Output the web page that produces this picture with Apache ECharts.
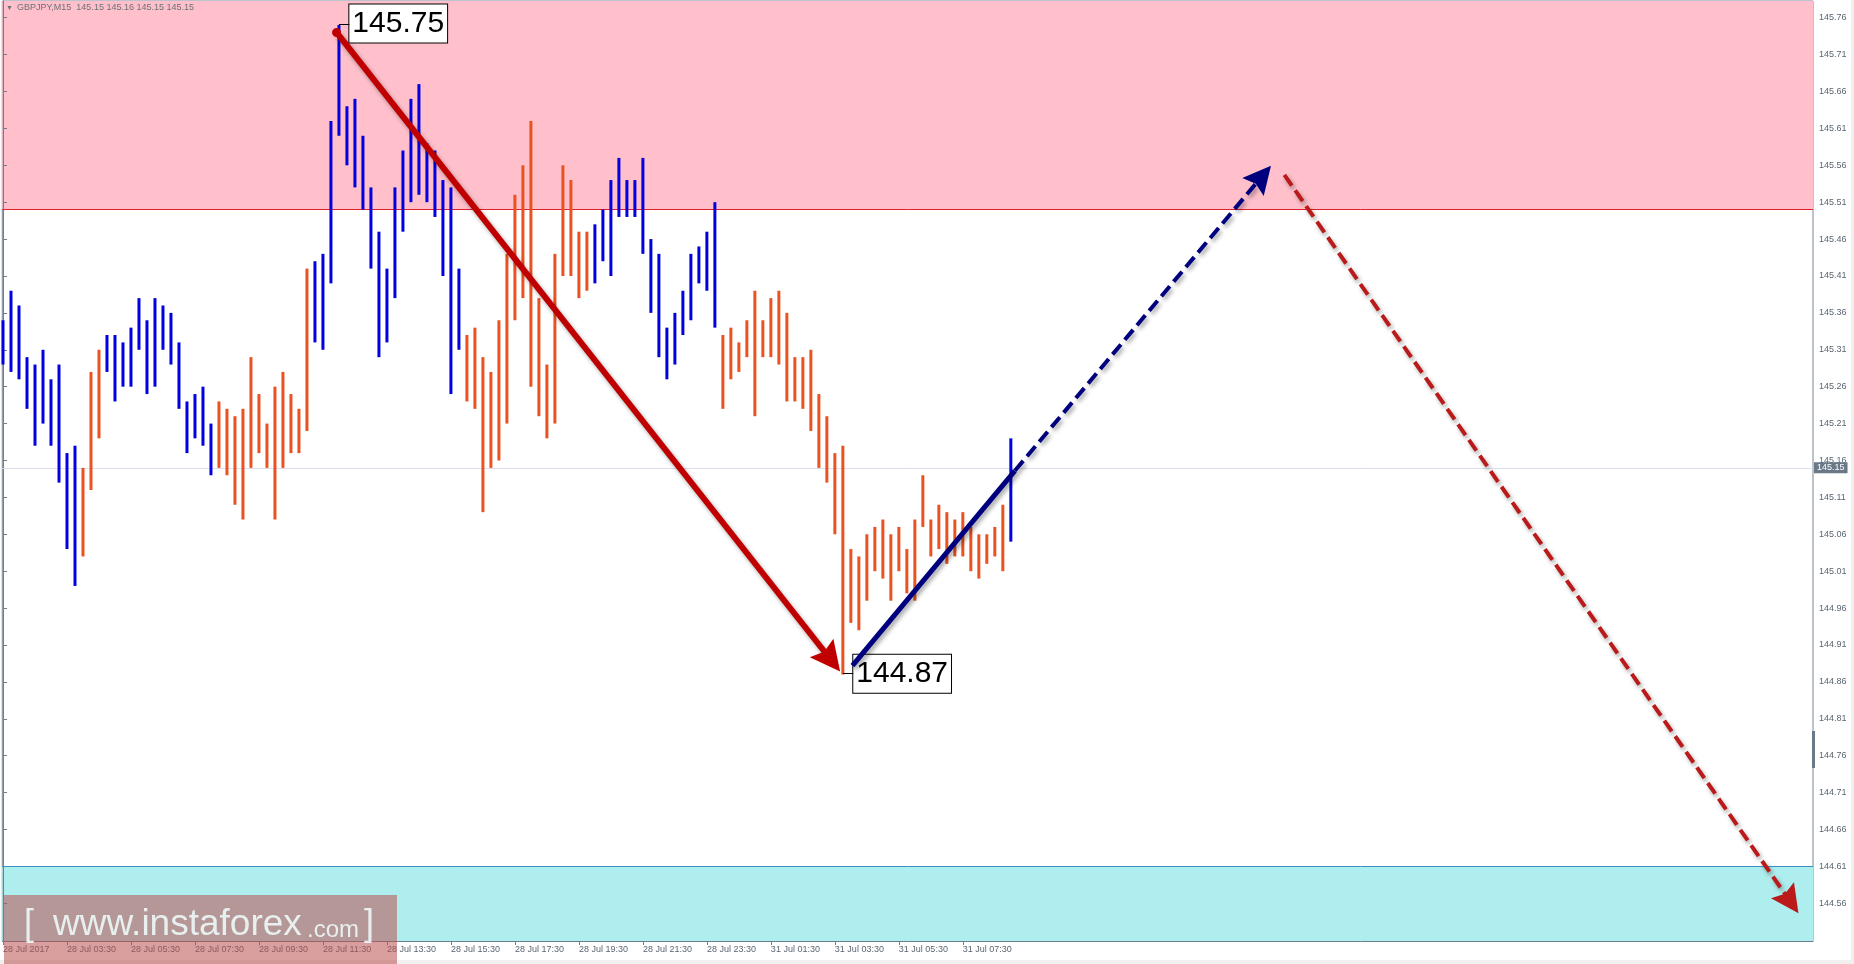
<!DOCTYPE html>
<html>
<head>
<meta charset="utf-8">
<script src="https://cdn.jsdelivr.net/npm/echarts@6/dist/echarts.min.js"></script>
<style>
html,body{margin:0;padding:0;background:#fff;}
#chart{width:1854px;height:964px;}
</style>
</head>
<body>
<div id="chart"></div>
<script>
// ---------------- data ----------------
const headerSymbol = 'GBPJPY,M15  145.15 145.16 145.15 145.15';
const timeLabels = ['28 Jul 2017','28 Jul 03:30','28 Jul 05:30','28 Jul 07:30','28 Jul 09:30','28 Jul 11:30',
  '28 Jul 13:30','28 Jul 15:30','28 Jul 17:30','28 Jul 19:30','28 Jul 21:30','28 Jul 23:30',
  '31 Jul 01:30','31 Jul 03:30','31 Jul 05:30','31 Jul 07:30'];
const barsPerLabel = 8;

const highs = [
  145.35,145.39,145.37,145.30,145.29,145.31,145.27,145.29,145.17,145.18,
  145.15,145.28,145.31,145.33,145.33,145.32,145.34,145.38,145.35,145.38,
  145.37,145.36,145.32,145.24,145.25,145.26,145.21,145.24,145.23,145.22,
  145.23,145.30,145.25,145.21,145.26,145.28,145.25,145.23,145.42,145.43,
  145.44,145.62,145.75,145.64,145.65,145.60,145.53,145.47,145.42,145.53,
  145.58,145.65,145.67,145.59,145.58,145.54,145.53,145.42,145.33,145.34,
  145.30,145.28,145.35,145.44,145.52,145.56,145.62,145.38,145.29,145.44,
  145.56,145.54,145.47,145.47,145.48,145.50,145.54,145.57,145.54,145.54,
  145.57,145.46,145.44,145.34,145.36,145.39,145.44,145.45,145.47,145.51,
  145.33,145.34,145.32,145.35,145.39,145.35,145.38,145.39,145.36,145.30,
  145.30,145.31,145.25,145.22,145.17,145.18,145.04,145.03,145.06,145.07,
  145.08,145.06,145.07,145.04,145.08,145.14,145.08,145.10,145.09,145.08,
  145.09,145.07,145.06,145.06,145.07,145.10,145.19
];
const lows = [
  145.29,145.28,145.27,145.23,145.18,145.21,145.18,145.13,145.04,144.99,
  145.03,145.12,145.19,145.28,145.24,145.26,145.26,145.31,145.25,145.26,
  145.31,145.29,145.23,145.17,145.19,145.18,145.14,145.15,145.14,145.10,
  145.08,145.15,145.17,145.15,145.08,145.15,145.17,145.17,145.20,145.32,
  145.31,145.40,145.60,145.56,145.53,145.50,145.42,145.30,145.32,145.38,
  145.47,145.51,145.52,145.51,145.49,145.41,145.25,145.31,145.24,145.23,
  145.09,145.15,145.16,145.21,145.35,145.38,145.26,145.22,145.19,145.21,
  145.41,145.41,145.38,145.39,145.40,145.43,145.41,145.49,145.49,145.49,
  145.44,145.36,145.30,145.27,145.29,145.33,145.35,145.40,145.39,145.34,
  145.23,145.27,145.28,145.30,145.22,145.30,145.30,145.29,145.24,145.24,
  145.23,145.20,145.15,145.13,145.06,144.87,144.94,144.93,144.97,145.01,
  145.00,144.97,145.01,144.98,144.97,145.07,145.03,145.04,145.02,145.03,
  145.03,145.01,145.00,145.02,145.03,145.01,145.05
];
const bullish = [
  1,1,1,1,1,1,1,1,1,1,
  0,0,0,1,1,1,1,1,1,1,
  1,1,1,1,1,1,1,0,0,0,
  0,0,0,0,0,0,0,0,0,1,
  1,1,1,1,1,1,1,1,1,1,
  1,1,1,1,1,1,1,1,0,0,
  0,0,0,0,0,0,0,0,0,0,
  0,0,0,0,1,1,1,1,1,1,
  1,1,1,1,1,1,1,1,1,1,
  0,0,0,0,0,0,0,0,0,0,
  0,0,0,0,0,0,0,0,0,0,
  0,0,0,0,0,0,0,0,0,0,
  0,0,0,0,0,0,1
];
const priceTicks = [145.76,145.71,145.66,145.61,145.56,145.51,145.46,145.41,145.36,145.31,145.26,145.21,145.16,
  145.11,145.06,145.01,144.96,144.91,144.86,144.81,144.76,144.71,144.66,144.61,144.56];

const resistanceFrom = 145.50;   // pink zone lower edge
const supportTo = 144.61;        // cyan zone upper edge
const lastPrice = 145.153;
const lastPriceText = '145.15';

const peakText = '145.75', peakBar = 42, peakPrice = 145.751, peakLabelAt = [43.3, 145.752];
const troughText = '144.87', troughBar = 105, troughPrice = 144.872, troughLabelAt = [106.3, 144.871];

const waveDown     = [[41.7, 145.74],  [103.5, 144.890]];
const waveUp       = [[106.2, 144.882],[126.5, 145.146]];
const forecastUp   = [[126.5, 145.146],[157.4, 145.545]];
const forecastDown = [[160.2, 145.547],[223.47, 144.562]];

// ---------------- chart ----------------
const X_MIN = -0.0875, X_MAX = 226.2875;
const Y_MIN = 144.5089, Y_MAX = 145.7826;
const FONT = '"Liberation Sans", Arial, sans-serif';
const BULL = '#0000e0', BEAR = '#ec5120';
const HEAD = 'path://M10,0 L20,26 L10,22 L0,26 Z';

const chart = echarts.init(document.getElementById('chart'), null, {renderer: 'canvas'});

const barData = highs.map((h, i) => [i, h, lows[i], bullish[i]]);
const lineShadow = {shadowColor: 'rgba(0,0,0,0.35)', shadowBlur: 4, shadowOffsetX: 2, shadowOffsetY: 3};

const option = {
  animation: false,
  backgroundColor: '#ffffff',
  grid: {left: 2, top: 1, right: 41, bottom: 23, show: true, borderColor: '#7a8794', borderWidth: 1, backgroundColor: '#fff'},
  xAxis: {
    type: 'value', min: X_MIN, max: X_MAX,
    axisLine: {show: true, lineStyle: {color: '#707e8c', width: 1}},
    axisTick: {show: true, inside: false, length: 4, lineStyle: {color: '#707e8c'},
      customValues: timeLabels.map((_, k) => k * barsPerLabel)},
    axisLabel: {show: true, align: 'left', margin: 4, fontSize: 9, fontFamily: FONT, color: '#5a6570',
      customValues: timeLabels.map((_, k) => k * barsPerLabel),
      formatter: v => timeLabels[Math.round(v / barsPerLabel)] || ''},
    splitLine: {show: false}
  },
  yAxis: {
    type: 'value', position: 'right', min: Y_MIN, max: Y_MAX,
    axisLine: {show: true, lineStyle: {color: '#707e8c', width: 1}},
    axisTick: {show: true, inside: false, length: 4, lineStyle: {color: '#707e8c'}, customValues: priceTicks},
    axisLabel: {show: true, margin: 6, fontSize: 9, fontFamily: FONT, color: '#5a6570',
      customValues: priceTicks, formatter: v => v.toFixed(2)},
    splitLine: {show: false}
  },
  series: [
    { // background zones and current price line
      type: 'line', data: [], z: 1, silent: true,
      markArea: {
        silent: true, z: 0,
        data: [
          [{coord: [X_MIN, resistanceFrom], itemStyle: {color: '#ffc0cb'}}, {coord: [X_MAX, Y_MAX]}],
          [{coord: [X_MIN, Y_MIN], itemStyle: {color: '#afeeee'}}, {coord: [X_MAX, supportTo]}]
        ]
      },
      markLine: {
        silent: true, z: 1, symbol: ['none', 'none'], animation: false,
        data: [
          {yAxis: resistanceFrom, lineStyle: {color: '#e0202a', width: 1, type: 'solid'}, label: {show: false}},
          {yAxis: supportTo, lineStyle: {color: '#3a90c4', width: 1, type: 'solid'}, label: {show: false}},
          {yAxis: lastPrice, lineStyle: {color: '#dcdcec', width: 1, type: 'solid'},
            label: {show: true, position: 'end', distance: 1, formatter: lastPriceText, color: '#fff',
              backgroundColor: '#6a7888', padding: [1, 3, 1, 3], fontSize: 9, lineHeight: 9, fontFamily: FONT}}
        ]
      }
    },
    { // price bars (high-low)
      type: 'custom', z: 2, silent: true,
      data: barData,
      encode: {x: 0, y: [1, 2]},
      renderItem: (params, api) => {
        const top = api.coord([api.value(0), api.value(1)]);
        const bot = api.coord([api.value(0), api.value(2)]);
        return {type: 'rect', shape: {x: top[0] - 1.5, y: top[1], width: 3, height: Math.max(1, bot[1] - top[1])},
          style: {fill: api.value(3) ? BULL : BEAR}};
      }
    },
    { // wave annotations
      type: 'line', data: [], z: 5, silent: true,
      markLine: {
        silent: true, z: 5, animation: false,
        label: {show: false},
        data: [
          [{coord: waveDown[0], symbol: 'circle', symbolSize: 9,
            lineStyle: Object.assign({color: '#c00000', width: 6, type: 'solid'}, lineShadow), itemStyle: {color: '#c00000'}},
           {coord: waveDown[1], symbol: HEAD, symbolSize: 30, itemStyle: {color: '#c00000'}}],
          [{coord: waveUp[0], symbol: 'none',
            lineStyle: Object.assign({color: '#00007f', width: 5, type: 'solid'}, lineShadow)},
           {coord: waveUp[1], symbol: 'none'}],
          [{coord: forecastUp[0], symbol: 'none',
            lineStyle: Object.assign({color: '#00007f', width: 4, type: [13, 6]}, lineShadow), itemStyle: {color: '#00007f'}},
           {coord: forecastUp[1], symbol: HEAD, symbolSize: 28, itemStyle: {color: '#00007f'}}],
          [{coord: forecastDown[0], symbol: 'none',
            lineStyle: Object.assign({color: '#bb1a1a', width: 4, type: [13, 6]}, lineShadow), itemStyle: {color: '#bb1a1a'}},
           {coord: forecastDown[1], symbol: HEAD, symbolSize: 28, itemStyle: {color: '#bb1a1a'}}],
          [{coord: [peakBar, peakPrice], symbol: 'none', lineStyle: {color: '#000', width: 1, type: 'solid', shadowBlur: 0}},
           {coord: [peakLabelAt[0], peakPrice], symbol: 'none'}],
          [{coord: [troughBar, troughPrice], symbol: 'none', lineStyle: {color: '#000', width: 1, type: 'solid', shadowBlur: 0}},
           {coord: [troughLabelAt[0], troughPrice], symbol: 'none'}]
        ]
      },
      markPoint: {
        silent: true, z: 4, animation: false,
        symbol: 'rect', symbolSize: 0, itemStyle: {color: 'rgba(0,0,0,0)'},
        label: {show: true, position: 'right', distance: 0, color: '#000', fontSize: 30, lineHeight: 34,
          fontFamily: FONT, backgroundColor: '#fff', borderColor: '#000', borderWidth: 1, padding: [3, 3, 1, 3]},
        data: [
          {coord: peakLabelAt, label: {formatter: peakText}},
          {coord: troughLabelAt, label: {formatter: troughText}}
        ]
      }
    }
  ],
  graphic: [
    {type: 'text', x: 6, y: 8, z: 50, style: {text: '▼', fontSize: 7, fill: '#6b7177', verticalAlign: 'middle'}},
    {type: 'text', x: 17, y: 8, z: 50, style: {text: headerSymbol, fontSize: 9, fontFamily: FONT, fill: '#6b7177', verticalAlign: 'middle'}},
    {type: 'rect', x: 1812, y: 731, z: 50, shape: {width: 3, height: 37}, style: {fill: '#6a7888'}},
    {type: 'rect', x: 0, y: 960, z: 40, shape: {width: 1854, height: 4}, style: {fill: '#f0f0f0'}},
    {type: 'rect', x: 1851, y: 0, z: 40, shape: {width: 3, height: 964}, style: {fill: '#f0f0f0'}},
    {type: 'rect', x: 4, y: 895, z: 100, shape: {width: 393, height: 69}, style: {fill: 'rgba(185,80,80,0.55)'}},
    {type: 'text', x: 24, y: 925, z: 101, style: {text: '[', fontSize: 36, fontFamily: FONT, fill: 'rgba(236,246,246,0.92)', verticalAlign: 'middle'}},
    {type: 'text', x: 53, y: 925, z: 101, style: {text: 'www.instaforex', fontSize: 37, fontFamily: FONT, fill: 'rgba(236,246,246,0.92)', verticalAlign: 'middle'}},
    {type: 'text', x: 307, y: 930, z: 101, style: {text: '.com', fontSize: 24, fontFamily: FONT, fill: 'rgba(236,246,246,0.92)', verticalAlign: 'middle'}},
    {type: 'text', x: 364, y: 925, z: 101, style: {text: ']', fontSize: 36, fontFamily: FONT, fill: 'rgba(236,246,246,0.92)', verticalAlign: 'middle'}}
  ]
};
chart.setOption(option);
</script>
</body>
</html>
